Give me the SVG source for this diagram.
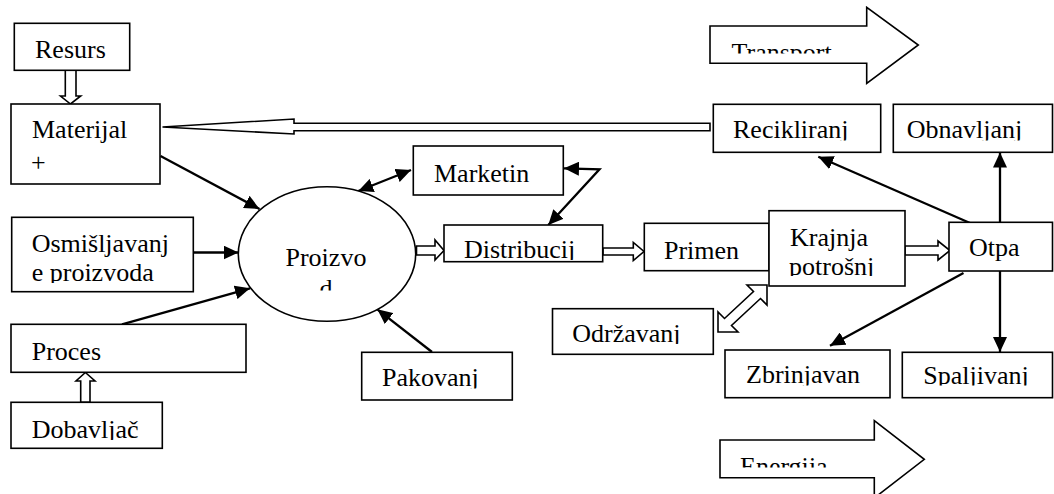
<svg xmlns="http://www.w3.org/2000/svg" width="1054" height="494" viewBox="0 0 1054 494">
<style>
.box{fill:#fff;stroke:#000;stroke-width:1.6}
.t{font-family:"Liberation Serif","Times New Roman",serif;font-size:26px;fill:#000}
.ln{fill:none;stroke:#000;stroke-width:2.3}
.hol{fill:#fff;stroke:#000;stroke-width:1.6;stroke-linejoin:miter}
</style>
<defs>
<marker id="ah" markerUnits="userSpaceOnUse" markerWidth="16" markerHeight="14" refX="15" refY="7" orient="auto-start-reverse">
<path d="M0,0 L15,7 L0,14 z" fill="#000"/>
</marker>
<clipPath id="cTr"><rect x="700" y="0" width="230" height="53.5"/></clipPath>
<clipPath id="cEn"><rect x="700" y="400" width="230" height="67.5"/></clipPath>
<clipPath id="cRe"><rect x="700" y="100" width="354" height="40.5"/></clipPath>
<clipPath id="cOs"><rect x="0" y="260" width="200" height="23"/></clipPath>
<clipPath id="cPd"><rect x="240" y="270" width="170" height="20.5"/></clipPath>
<clipPath id="cDo"><rect x="0" y="400" width="200" height="40"/></clipPath>
<clipPath id="cDi"><rect x="440" y="220" width="170" height="40"/></clipPath>
<clipPath id="cKp"><rect x="770" y="255" width="140" height="21"/></clipPath>
<clipPath id="cOd"><rect x="550" y="305" width="170" height="39"/></clipPath>
<clipPath id="cPa"><rect x="360" y="350" width="160" height="38.5"/></clipPath>
<clipPath id="cOt"><rect x="945" y="220" width="109" height="43"/></clipPath>
<clipPath id="cZs"><rect x="720" y="350" width="334" height="35.5"/></clipPath>
</defs>

<g id="connectors">
<!-- Resurs -> Materijal (hollow) -->
<polygon class="hol" points="65.3,70 76,70 76,96 80.7,96 70.5,104 60.5,96 65.3,96"/>
<!-- Reciklirani -> Materijal (hollow long) -->
<polygon class="hol" points="710,123.3 294,123.3 294,119 162.5,127 294,134 294,130.7 710,130.7"/>
<!-- Dobavljac -> Proces (hollow up) -->
<polygon class="hol" points="80.7,402.3 90,402.3 90,381 95,381 85.4,372.5 76,381 80.7,381"/>
<!-- Proizvod -> Distribucij (hollow) -->
<polygon class="hol" points="416.5,246 435,246 435,240 444,250.5 435,260 435,255 416.5,255"/>
<!-- Distribucij -> Primen (hollow) -->
<polygon class="hol" points="603,248 633.3,248 633.3,242.5 644,251.5 633.3,260.5 633.3,255 603,255"/>
<!-- Krajnja -> Otpa (hollow) -->
<polygon class="hol" points="905,246 938,246 938,241 950,250.5 938,260 938,255 905,255"/>
<!-- Krajnja <-> Odrzavanj (hollow double) -->
<polygon class="hol" points="767,285 767,305 760.5,298.5 731.5,325.5 738,332 718,332 718,312 724.5,318.5 753.5,291.5 747,285"/>

<line class="ln" x1="160.5" y1="156" x2="259.5" y2="209" marker-end="url(#ah)"/>
<line class="ln" x1="193" y1="252.5" x2="238.5" y2="252.5" marker-end="url(#ah)"/>
<line class="ln" x1="122" y1="324.3" x2="250" y2="288.3" marker-end="url(#ah)"/>
<line class="ln" x1="358.3" y1="191" x2="411" y2="170" marker-start="url(#ah)" marker-end="url(#ah)"/>
<polyline class="ln" points="564,168.3 599.5,169.3 548.3,225" marker-start="url(#ah)" marker-end="url(#ah)"/>
<line class="ln" x1="432" y1="352" x2="377.3" y2="309.3" marker-end="url(#ah)"/>
<line class="ln" x1="970" y1="223" x2="818.3" y2="156.7" marker-end="url(#ah)"/>
<line class="ln" x1="1000" y1="222.3" x2="1000" y2="152.5" marker-end="url(#ah)"/>
<line class="ln" x1="963.5" y1="273" x2="830" y2="345.7" marker-end="url(#ah)"/>
<line class="ln" x1="1000" y1="271" x2="1000" y2="352" marker-end="url(#ah)"/>
</g>

<g id="resurs">
<rect class="box" x="14.3" y="23.3" width="115.4" height="47"/>
<text class="t" x="35" y="58">Resurs</text>
</g>
<g id="materijal">
<rect class="box" x="11" y="104" width="149" height="80"/>
<text class="t" x="32" y="138">Materijal</text>
<text class="t" x="31" y="171">+</text>
</g>
<g id="osmisljavanje">
<rect class="box" x="11.7" y="217.3" width="181.6" height="74.4"/>
<text class="t" x="31.7" y="252">Osmišljavanj</text>
<text class="t" x="31.7" y="280.5" clip-path="url(#cOs)">e proizvoda</text>
</g>
<g id="proces">
<rect class="box" x="11" y="324.3" width="235" height="48"/>
<text class="t" x="31.7" y="360">Proces</text>
</g>
<g id="dobavljac">
<rect class="box" x="11" y="402.3" width="151.3" height="46"/>
<text class="t" x="31.7" y="438.3" clip-path="url(#cDo)">Dobavljač</text>
</g>
<g id="proizvod">
<ellipse class="box" cx="327" cy="254" rx="88.7" ry="67.2"/>
<text class="t" x="285.5" y="266">Proizvo</text>
<text class="t" x="319.5" y="297" clip-path="url(#cPd)">d</text>
</g>
<g id="marketing">
<rect class="box" x="413.3" y="146" width="150" height="49"/>
<text class="t" x="434" y="181.7">Marketin</text>
</g>
<g id="pakovanje">
<rect class="box" x="361.7" y="352.3" width="150.6" height="47.7"/>
<text class="t" x="382" y="386" clip-path="url(#cPa)">Pakovanj</text>
</g>
<g id="distribucija">
<rect class="box" x="444" y="225" width="158.7" height="36.7"/>
<text class="t" x="464" y="258.3" clip-path="url(#cDi)">Distribucij</text>
</g>
<g id="primena">
<rect class="box" x="644.3" y="223.3" width="124.7" height="47.4"/>
<text class="t" x="664" y="259">Primen</text>
</g>
<g id="krajnja">
<rect class="box" x="769" y="210.7" width="136" height="75.3"/>
<text class="t" x="790" y="245.7">Krajnja</text>
<text class="t" x="789" y="274.5" clip-path="url(#cKp)">potrošnj</text>
</g>
<g id="odrzavanje">
<rect class="box" x="552.5" y="308.7" width="160.8" height="45.6"/>
<text class="t" x="572.3" y="341.7" clip-path="url(#cOd)">Održavanj</text>
</g>
<g id="otpad">
<rect class="box" x="949" y="222.3" width="103.5" height="48.7"/>
<text class="t" x="969" y="256" clip-path="url(#cOt)">Otpa</text>
</g>
<g id="recikliranje">
<rect class="box" x="713.3" y="104.3" width="167.4" height="48"/>
<text class="t" x="733" y="137.7" clip-path="url(#cRe)">Recikliranj</text>
</g>
<g id="obnavljanje">
<rect class="box" x="893.3" y="104.3" width="159.2" height="48"/>
<text class="t" x="906.7" y="137.7" clip-path="url(#cRe)">Obnavljanj</text>
</g>
<g id="zbrinjavanje">
<rect class="box" x="725" y="350" width="165" height="47.7"/>
<text class="t" x="746" y="383.3" clip-path="url(#cZs)">Zbrinjavan</text>
</g>
<g id="spaljivanje">
<rect class="box" x="902.3" y="352.3" width="150.2" height="45.4"/>
<text class="t" x="923.3" y="384" clip-path="url(#cZs)">Spaljivanj</text>
</g>
<g id="transport">
<polygon class="hol" points="710,26 866.7,26 866.7,7.3 918.3,45 866.7,83.3 866.7,63.3 710,63.3"/>
<text class="t" x="731.5" y="60.5" clip-path="url(#cTr)">Transport</text>
</g>
<g id="energija">
<polygon class="hol" points="720,440 874.3,440 874.3,420.7 924.3,459.3 874.3,498 874.3,477.7 720,477.7"/>
<text class="t" x="740" y="475" clip-path="url(#cEn)">Energija</text>
</g>
</svg>
